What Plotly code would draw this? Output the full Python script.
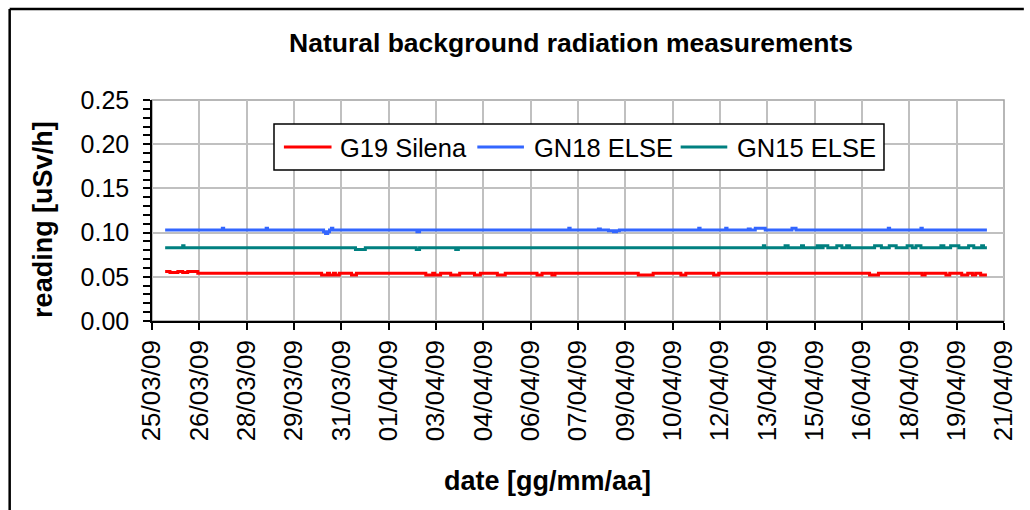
import plotly.graph_objects as go

# ---------------- data ----------------
g19_times = [
    "2009-03-25 10:00", "2009-03-25 13:40", "2009-03-25 19:40", "2009-03-25 23:20",
    "2009-03-26 03:10", "2009-03-26 10:50",
    "2009-03-30 09:00", "2009-03-30 13:30", "2009-03-30 15:00", "2009-03-30 18:00",
    "2009-03-30 19:30", "2009-03-30 22:30",
    "2009-03-31 07:45", "2009-03-31 11:30",
    "2009-04-02 16:15", "2009-04-02 21:30", "2009-04-02 23:00", "2009-04-03 03:30",
    "2009-04-03 11:10", "2009-04-03 18:00",
    "2009-04-04 05:15", "2009-04-04 09:45",
    "2009-04-04 22:40", "2009-04-05 04:40",
    "2009-04-06 04:50", "2009-04-06 08:40",
    "2009-04-06 16:10", "2009-04-06 18:30",
    "2009-04-09 09:50", "2009-04-09 21:10",
    "2009-04-10 18:15", "2009-04-10 22:00",
    "2009-04-11 19:10", "2009-04-11 23:00",
    "2009-04-16 17:45", "2009-04-17 00:30",
    "2009-04-18 09:40", "2009-04-18 12:00",
    "2009-04-19 03:50", "2009-04-19 06:45",
    "2009-04-19 15:50", "2009-04-19 20:25",
    "2009-04-20 00:00", "2009-04-20 02:25",
    "2009-04-20 06:15", "2009-04-20 11:00",
]
g19_values = [
    0.056, 0.055, 0.056, 0.055,
    0.056, 0.054,
    0.052, 0.054, 0.052, 0.054,
    0.052, 0.054,
    0.052, 0.054,
    0.052, 0.054, 0.052, 0.054,
    0.052, 0.054,
    0.052, 0.054,
    0.052, 0.054,
    0.052, 0.054,
    0.052, 0.054,
    0.052, 0.054,
    0.052, 0.054,
    0.052, 0.054,
    0.052, 0.054,
    0.052, 0.054,
    0.052, 0.054,
    0.052, 0.054,
    0.052, 0.054,
    0.052, 0.052,
]

gn18_times = [
    "2009-03-25 10:00", "2009-03-27 05:30", "2009-03-27 06:30", "2009-03-28 14:50",
    "2009-03-28 15:50", "2009-03-30 10:30", "2009-03-30 12:00", "2009-03-30 13:40",
    "2009-03-30 15:00", "2009-03-30 16:30", "2009-03-30 17:30", "2009-04-02 09:30",
    "2009-04-02 11:30", "2009-04-07 05:00", "2009-04-07 06:00", "2009-04-08 03:30",
    "2009-04-08 05:00", "2009-04-08 11:10", "2009-04-08 15:00", "2009-04-08 17:15",
    "2009-04-08 19:30", "2009-04-11 07:50", "2009-04-11 08:50", "2009-04-12 04:20",
    "2009-04-12 05:20", "2009-04-12 21:30", "2009-04-12 23:00", "2009-04-13 02:50",
    "2009-04-13 10:25", "2009-04-14 06:45", "2009-04-14 09:50", "2009-04-17 08:00",
    "2009-04-17 09:00", "2009-04-18 08:50", "2009-04-18 09:50", "2009-04-20 11:00",
]
gn18_values = [
    0.103, 0.105, 0.103, 0.105,
    0.103, 0.101, 0.099, 0.101,
    0.103, 0.105, 0.103, 0.101,
    0.103, 0.105, 0.103, 0.104,
    0.103, 0.102, 0.101, 0.102,
    0.103, 0.105, 0.103, 0.105,
    0.103, 0.104, 0.103, 0.105,
    0.103, 0.105, 0.103, 0.105,
    0.103, 0.105, 0.103, 0.103,
]

gn15_times = [
    "2009-03-25 10:00", "2009-03-25 23:20", "2009-03-26 00:20", "2009-03-31 10:45",
    "2009-03-31 18:15", "2009-04-02 09:00", "2009-04-02 11:30", "2009-04-03 15:00",
    "2009-04-03 17:00", "2009-04-13 09:00", "2009-04-13 10:00", "2009-04-14 01:30",
    "2009-04-14 03:50", "2009-04-14 14:00", "2009-04-14 15:30", "2009-04-15 01:55",
    "2009-04-15 04:10", "2009-04-15 06:25", "2009-04-15 10:00", "2009-04-15 16:50",
    "2009-04-15 20:40", "2009-04-16 00:20", "2009-04-16 02:35", "2009-04-16 21:35",
    "2009-04-17 02:45", "2009-04-17 08:45", "2009-04-17 14:00", "2009-04-17 22:20",
    "2009-04-18 02:10", "2009-04-18 05:05", "2009-04-18 08:50", "2009-04-19 00:00",
    "2009-04-19 02:15", "2009-04-19 07:25", "2009-04-19 13:40", "2009-04-19 21:05",
    "2009-04-20 01:00", "2009-04-20 07:00", "2009-04-20 08:25", "2009-04-20 11:00",
]
gn15_values = [
    0.083, 0.085, 0.083, 0.081,
    0.083, 0.081, 0.083, 0.081,
    0.083, 0.085, 0.083, 0.085,
    0.083, 0.085, 0.083, 0.085,
    0.083, 0.085, 0.083, 0.085,
    0.083, 0.085, 0.083, 0.085,
    0.083, 0.085, 0.083, 0.085,
    0.083, 0.085, 0.083, 0.085,
    0.083, 0.085, 0.083, 0.085,
    0.083, 0.085, 0.083, 0.083,
]

series_names = ["G19 Silena", "GN18 ELSE", "GN15 ELSE"]
series_colors = ["#FF0000", "#3366FF", "#008080"]

x_start = "2009-03-25"
x_end = "2009-04-21"
y_max = 0.25

title_text = "Natural background radiation measurements"
y_title = "reading [uSv/h]"
x_title = "date [gg/mm/aa]"

# ---------------- figure ----------------
FONT = "Liberation Sans, Arial, sans-serif"
OFF = 0                      # body margin removed by post_script below
W, H = 1030 - OFF, 510 - OFF
# plot area in page pixels: x 152..1011, y 100..321
L, T = 152 - OFF, 100 - OFF
R = W - (1011 - OFF)
B = H - (321 - OFF)
PW, PH = W - L - R, H - T - B


def px_x(px):
    return (px - OFF - L) / PW


def px_y(py):
    return (H - B - (py - OFF)) / PH


fig = go.Figure()
for name, xs, ys, col in zip(
    series_names,
    [g19_times, gn18_times, gn15_times],
    [g19_values, gn18_values, gn15_values],
    series_colors,
):
    fig.add_trace(
        go.Scatter(
            x=xs, y=ys, mode="lines", name=name, showlegend=False,
            line=dict(color=col, width=3, shape="hv"),
        )
    )

# legend drawn as a boxed row (sample line + label per series)
legend_box = dict(x0=275, x1=890, y0=124, y1=170)
legend_line_x = [(285, 333), (480, 527), (685, 732)]
legend_text_x = [340, 535, 740]
legend_mid_y = 147

shapes = [
    dict(type="rect", xref="paper", yref="paper",
         x0=0, x1=1, y0=0, y1=1, line=dict(color="#A0A0A0", width=1.5),
         layer="below"),
    # chart-area frame: only its top and left edges are inside the picture
    dict(type="line", xref="paper", yref="paper",
         x0=px_x(8.5), x1=px_x(1031), y0=px_y(9), y1=px_y(9),
         line=dict(color="black", width=2.5), layer="above"),
    dict(type="line", xref="paper", yref="paper",
         x0=px_x(8.5), x1=px_x(8.5), y0=px_y(9), y1=px_y(511),
         line=dict(color="black", width=2.5), layer="above"),
    dict(type="rect", xref="paper", yref="paper",
         x0=px_x(legend_box["x0"]), x1=px_x(legend_box["x1"]),
         y0=px_y(legend_box["y1"]), y1=px_y(legend_box["y0"]),
         line=dict(color="black", width=1.5), fillcolor="white", layer="above"),
]
annotations = []
for (lx0, lx1), tx, name, col in zip(legend_line_x, legend_text_x,
                                      series_names, series_colors):
    shapes.append(dict(type="line", xref="paper", yref="paper",
                       x0=px_x(lx0), x1=px_x(lx1),
                       y0=px_y(legend_mid_y), y1=px_y(legend_mid_y),
                       line=dict(color=col, width=3), layer="above"))
    annotations.append(dict(text=name, xref="paper", yref="paper",
                            x=px_x(tx), y=px_y(legend_mid_y + 1),
                            xanchor="left", yanchor="middle", showarrow=False,
                            font=dict(family=FONT, size=25.5, color="black")))

annotations += [
    dict(text="<b>" + title_text + "</b>", xref="paper", yref="paper",
         x=px_x(574), y=px_y(43), xanchor="center", yanchor="middle",
         showarrow=False, font=dict(family=FONT, size=26.5, color="black")),
    dict(text="<b>" + y_title + "</b>", xref="paper", yref="paper",
         x=px_x(42), y=px_y(219), xanchor="center", yanchor="middle",
         textangle=-90, showarrow=False,
         font=dict(family=FONT, size=27, color="black")),
    dict(text="<b>" + x_title + "</b>", xref="paper", yref="paper",
         x=px_x(551), y=px_y(481), xanchor="center", yanchor="middle",
         showarrow=False, font=dict(family=FONT, size=27, color="black")),
]

fig.update_layout(
    width=W, height=H, autosize=False,
    margin=dict(l=L, r=R, t=T, b=B, pad=0),
    paper_bgcolor="white", plot_bgcolor="white",
    font=dict(family=FONT, color="black", size=25),
    showlegend=False,
    xaxis=dict(
        type="date", range=[x_start, x_end],
        tick0=x_start, dtick=129600000, tickformat="%d/%m/%y",
        tickangle=-90, ticks="outside", ticklen=7, tickcolor="black", tickwidth=1.5,
        showline=True, linecolor="black", linewidth=1.5,
        showgrid=True, gridcolor="#C0C0C0", gridwidth=1.5,
        zeroline=False, tickfont=dict(family=FONT, size=26, color="black"),
        ticklabelstandoff=0,
    ),
    yaxis=dict(
        range=[0, y_max], dtick=0.05, tickformat=".2f",
        ticks="outside", ticklen=7, tickcolor="black", tickwidth=1.5,
        minor=dict(dtick=0.01, ticks="outside", ticklen=7, tickcolor="black",
                   tickwidth=1.5, showgrid=False),
        showline=True, linecolor="black", linewidth=1.5,
        showgrid=True, gridcolor="#C0C0C0", gridwidth=1.5,
        zeroline=False, tickfont=dict(family=FONT, size=25, color="black"),
        ticklabelstandoff=9,
    ),
    shapes=shapes,
    annotations=annotations,
)

fig.write_html(
    "out.html",
    config={"displayModeBar": False},
    post_script=(
        "document.documentElement.style.margin='0';"
        "document.documentElement.style.overflow='hidden';"
        "document.body.style.margin='0';"
        "document.body.style.overflow='hidden';"
    ),
)
